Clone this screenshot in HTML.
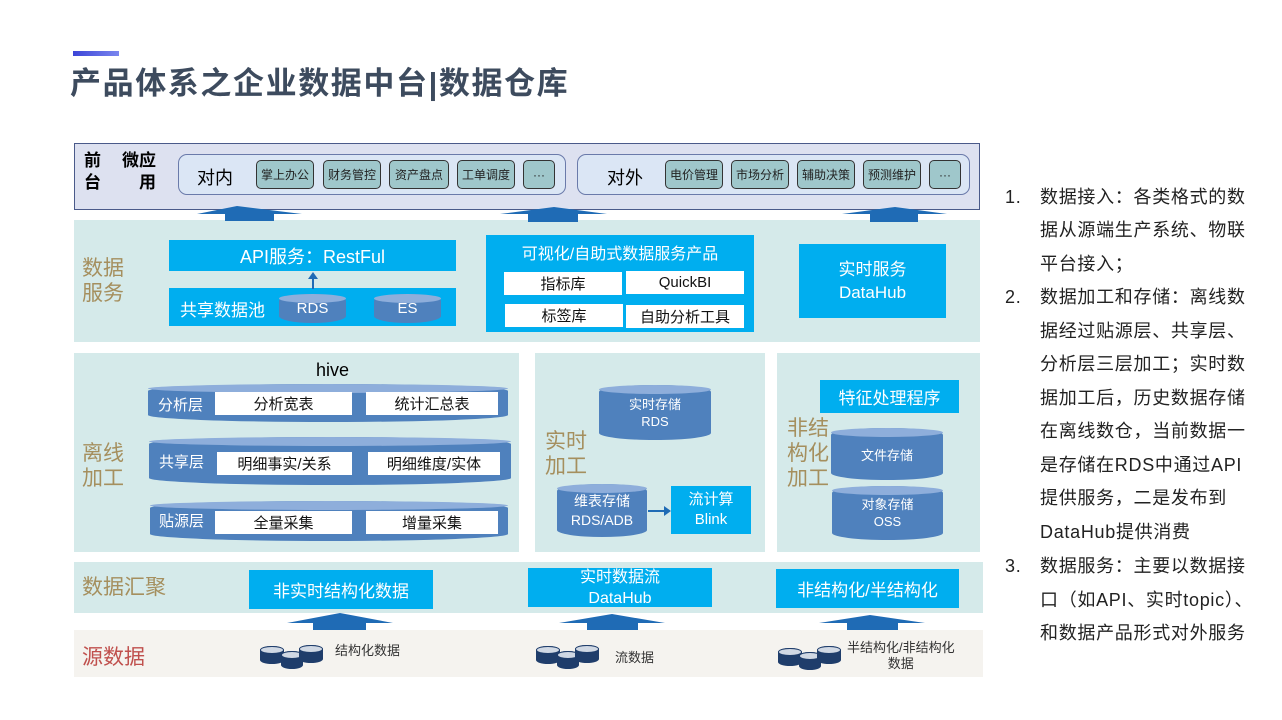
<!DOCTYPE html>
<html><head><meta charset="utf-8"><style>
*{margin:0;padding:0;box-sizing:border-box}
body{width:1282px;height:720px;background:#fff;position:relative;overflow:hidden;font-family:"Liberation Sans","Noto Sans CJK SC",sans-serif}
.a{position:absolute}
.c{display:flex;align-items:center;justify-content:center;text-align:center}
.blue{background:#00aeef;color:#fff}
.wh{background:#fff;color:#111}
.it{background:#9fc7cb;border:1.5px solid #333;border-radius:5px;font-size:12px;color:#222}
.band{background:#d5eaea}
.lab{color:#a58f5e;font-size:20px;line-height:25px}
.cyl{background:#4f81bd;border-radius:50%/7px;color:#fff}
.cyl::before{content:"";position:absolute;left:0;right:0;top:0;height:9px;border-radius:50%;background:#8eaedb}
.cyl span{position:relative}
.db{background:#1f3d6b;border-radius:50%/4px;width:24px;height:18px}
.db::before{content:"";position:absolute;left:0;right:0;top:0;height:6px;border-radius:50%;background:#d0d8e4;border:1px solid #1f3d6b}
.rt div{position:absolute;left:1040px;font-size:18px;color:#222;line-height:20px;letter-spacing:0.7px;white-space:nowrap}
</style></head><body>
<div class="a" style="left:73px;top:51px;width:46px;height:5px;background:linear-gradient(90deg,#3c45d8,#7a86ee)"></div>
<div class="a" style="left:70px;top:65px;font-size:31px;font-weight:bold;color:#3d4b5e;line-height:38px;letter-spacing:1.6px">产品体系之企业数据中台|数据仓库</div>

<!-- front -->
<div class="a" style="left:74px;top:143px;width:906px;height:67px;background:#dde1f0;border:1.5px solid #4a5a8a"></div>
<div class="a" style="left:84px;top:150px;font-size:17px;font-weight:bold;line-height:22px">前<br>台</div>
<div class="a" style="left:122px;top:150px;font-size:17px;font-weight:bold;line-height:22px;text-align:right">微应<br>用</div>
<div class="a" style="left:178px;top:154px;width:388px;height:41px;background:#dbe6f5;border:1.5px solid #6a7aaa;border-radius:9px"></div>
<div class="a" style="left:197px;top:164px;font-size:18px">对内</div>
<div class="a c it" style="left:256px;top:160px;width:58px;height:29px">掌上办公</div>
<div class="a c it" style="left:323px;top:160px;width:58px;height:29px">财务管控</div>
<div class="a c it" style="left:389px;top:160px;width:60px;height:29px">资产盘点</div>
<div class="a c it" style="left:457px;top:160px;width:58px;height:29px">工单调度</div>
<div class="a c it" style="left:523px;top:160px;width:32px;height:29px">···</div>
<div class="a" style="left:577px;top:154px;width:393px;height:41px;background:#dbe6f5;border:1.5px solid #6a7aaa;border-radius:9px"></div>
<div class="a" style="left:607px;top:164px;font-size:18px">对外</div>
<div class="a c it" style="left:665px;top:160px;width:58px;height:29px">电价管理</div>
<div class="a c it" style="left:731px;top:160px;width:58px;height:29px">市场分析</div>
<div class="a c it" style="left:797px;top:160px;width:58px;height:29px">辅助决策</div>
<div class="a c it" style="left:863px;top:160px;width:58px;height:29px">预测维护</div>
<div class="a c it" style="left:929px;top:160px;width:32px;height:29px">···</div>

<!-- data service -->
<div class="a band" style="left:74px;top:220px;width:906px;height:122px"></div>
<svg class="a" style="left:0;top:0" width="1282" height="720">
<g fill="#1f6bb5">
<polygon points="197,214 237,206 302,214 274,214 274,221 225,221 225,214"/>
<polygon points="500,214 554,207 607,214 578,214 578,222 528,222 528,214"/>
<polygon points="842,214 895,207 947,214 918,214 918,222 870,222 870,214"/>
<polygon points="287,623 340,613 393,623 366,623 366,634 313,634 313,623"/>
<polygon points="559,623 612,614 665,623 638,623 638,634 587,634 587,623"/>
<polygon points="819,623 870,615 925,623 898,623 898,634 847,634 847,623"/>
</g>
</svg>
<div class="a lab" style="left:82px;top:256px;font-size:21px">数据<br>服务</div>
<div class="a c blue" style="left:169px;top:240px;width:287px;height:31px;font-size:18px">API服务：RestFul</div>
<div class="a blue" style="left:169px;top:288px;width:287px;height:38px"></div>
<div class="a" style="left:180px;top:296px;color:#fff;font-size:17px">共享数据池</div>
<div class="a c cyl" style="left:279px;top:294px;width:67px;height:29px;font-size:15px"><span>RDS</span></div>
<div class="a c cyl" style="left:374px;top:294px;width:67px;height:29px;font-size:15px"><span>ES</span></div>
<div class="a" style="left:312px;top:278px;width:2px;height:11px;background:#1f6bb5"></div>
<div class="a" style="left:308px;top:272px;border:5px solid transparent;border-bottom:7px solid #1f6bb5;border-top:0"></div>
<div class="a blue" style="left:486px;top:235px;width:268px;height:97px"></div>
<div class="a" style="left:486px;top:240px;width:268px;text-align:center;color:#fff;font-size:16px">可视化/自助式数据服务产品</div>
<div class="a c wh" style="left:504px;top:272px;width:118px;height:23px;font-size:15px">指标库</div>
<div class="a c wh" style="left:626px;top:271px;width:118px;height:23px;font-size:15px">QuickBI</div>
<div class="a c wh" style="left:505px;top:304px;width:118px;height:23px;font-size:15px">标签库</div>
<div class="a c wh" style="left:626px;top:305px;width:118px;height:23px;font-size:15px">自助分析工具</div>
<div class="a c blue" style="left:799px;top:244px;width:147px;height:74px;font-size:17px;line-height:23px">实时服务<br>DataHub</div>

<!-- offline -->
<div class="a band" style="left:74px;top:353px;width:445px;height:199px"></div>
<div class="a lab" style="left:82px;top:441px;font-size:21px">离线<br>加工</div>
<div class="a" style="left:316px;top:360px;font-size:18px">hive</div>
<div class="a cyl" style="left:148px;top:384px;width:360px;height:38px"></div>
<div class="a" style="left:158px;top:394px;color:#fff;font-size:15px">分析层</div>
<div class="a c wh" style="left:215px;top:392px;width:137px;height:23px;font-size:15px">分析宽表</div>
<div class="a c wh" style="left:366px;top:392px;width:132px;height:23px;font-size:15px">统计汇总表</div>
<div class="a cyl" style="left:149px;top:437px;width:362px;height:48px"></div>
<div class="a" style="left:159px;top:451px;color:#fff;font-size:15px">共享层</div>
<div class="a c wh" style="left:217px;top:452px;width:135px;height:23px;font-size:15px">明细事实/关系</div>
<div class="a c wh" style="left:368px;top:452px;width:132px;height:23px;font-size:15px">明细维度/实体</div>
<div class="a cyl" style="left:150px;top:501px;width:358px;height:40px"></div>
<div class="a" style="left:159px;top:510px;color:#fff;font-size:15px">贴源层</div>
<div class="a c wh" style="left:215px;top:511px;width:137px;height:23px;font-size:15px">全量采集</div>
<div class="a c wh" style="left:366px;top:511px;width:132px;height:23px;font-size:15px">增量采集</div>

<!-- realtime -->
<div class="a band" style="left:535px;top:353px;width:230px;height:199px"></div>
<div class="a lab" style="left:545px;top:429px;font-size:21px">实时<br>加工</div>
<div class="a c cyl" style="left:599px;top:385px;width:112px;height:55px;font-size:13px;line-height:17px"><span>实时存储<br>RDS</span></div>
<div class="a c cyl" style="left:557px;top:484px;width:90px;height:53px;font-size:14px;line-height:19px"><span>维表存储<br>RDS/ADB</span></div>
<div class="a" style="left:648px;top:510px;width:17px;height:2px;background:#1f6bb5"></div>
<div class="a" style="left:664px;top:506px;border-top:5px solid transparent;border-bottom:5px solid transparent;border-left:7px solid #1f6bb5"></div>
<div class="a c blue" style="left:671px;top:486px;width:80px;height:48px;font-size:15px;line-height:20px">流计算<br>Blink</div>

<!-- unstructured -->
<div class="a band" style="left:777px;top:353px;width:203px;height:199px"></div>
<div class="a lab" style="left:787px;top:416px;font-size:21px">非结<br>构化<br>加工</div>
<div class="a c blue" style="left:820px;top:380px;width:139px;height:33px;font-size:17px">特征处理程序</div>
<div class="a c cyl" style="left:831px;top:428px;width:112px;height:52px;font-size:13px"><span>文件存储</span></div>
<div class="a c cyl" style="left:832px;top:486px;width:111px;height:54px;font-size:13px;line-height:17px"><span>对象存储<br>OSS</span></div>

<!-- aggregate -->
<div class="a band" style="left:74px;top:562px;width:909px;height:51px"></div>
<div class="a lab" style="left:82px;top:575px;font-size:21px">数据汇聚</div>
<div class="a c blue" style="left:249px;top:570px;width:184px;height:39px;font-size:17px">非实时结构化数据</div>
<div class="a c blue" style="left:528px;top:568px;width:184px;height:39px;font-size:16px;line-height:21px">实时数据流<br>DataHub</div>
<div class="a c blue" style="left:776px;top:569px;width:183px;height:39px;font-size:17px">非结构化/半结构化</div>

<!-- source -->
<div class="a" style="left:74px;top:630px;width:909px;height:47px;background:#f5f3ef"></div>
<div class="a" style="left:82px;top:641px;color:#c0504d;font-size:21px">源数据</div>
<div class="a db" style="left:260px;top:646px"></div><div class="a db" style="left:281px;top:651px;width:22px"></div><div class="a db" style="left:299px;top:645px"></div>
<div class="a" style="left:335px;top:640px;font-size:13px;color:#333">结构化数据</div>
<div class="a db" style="left:536px;top:646px"></div><div class="a db" style="left:557px;top:651px;width:22px"></div><div class="a db" style="left:575px;top:645px"></div>
<div class="a" style="left:615px;top:647px;font-size:13px;color:#333">流数据</div>
<div class="a db" style="left:778px;top:648px"></div><div class="a db" style="left:799px;top:652px;width:22px"></div><div class="a db" style="left:817px;top:646px"></div>
<div class="a" style="left:847px;top:640px;font-size:13px;color:#333;text-align:center;line-height:16px">半结构化/非结构化<br>数据</div>

<!-- right text -->
<div class="rt">
<div style="left:1005px;top:187px">1.</div>
<div style="top:187px">数据接入：各类格式的数</div>
<div style="top:220px">据从源端生产系统、物联</div>
<div style="top:254px">平台接入；</div>
<div style="left:1005px;top:287px">2.</div>
<div style="top:287px">数据加工和存储：离线数</div>
<div style="top:321px">据经过贴源层、共享层、</div>
<div style="top:354px">分析层三层加工；实时数</div>
<div style="top:388px">据加工后，历史数据存储</div>
<div style="top:421px">在离线数仓，当前数据一</div>
<div style="top:455px">是存储在RDS中通过API</div>
<div style="top:488px">提供服务，二是发布到</div>
<div style="top:522px">DataHub提供消费</div>
<div style="left:1005px;top:556px">3.</div>
<div style="top:556px">数据服务：主要以数据接</div>
<div style="top:590px">口（如API、实时topic）、</div>
<div style="top:623px">和数据产品形式对外服务</div>
</div>
</body></html>
